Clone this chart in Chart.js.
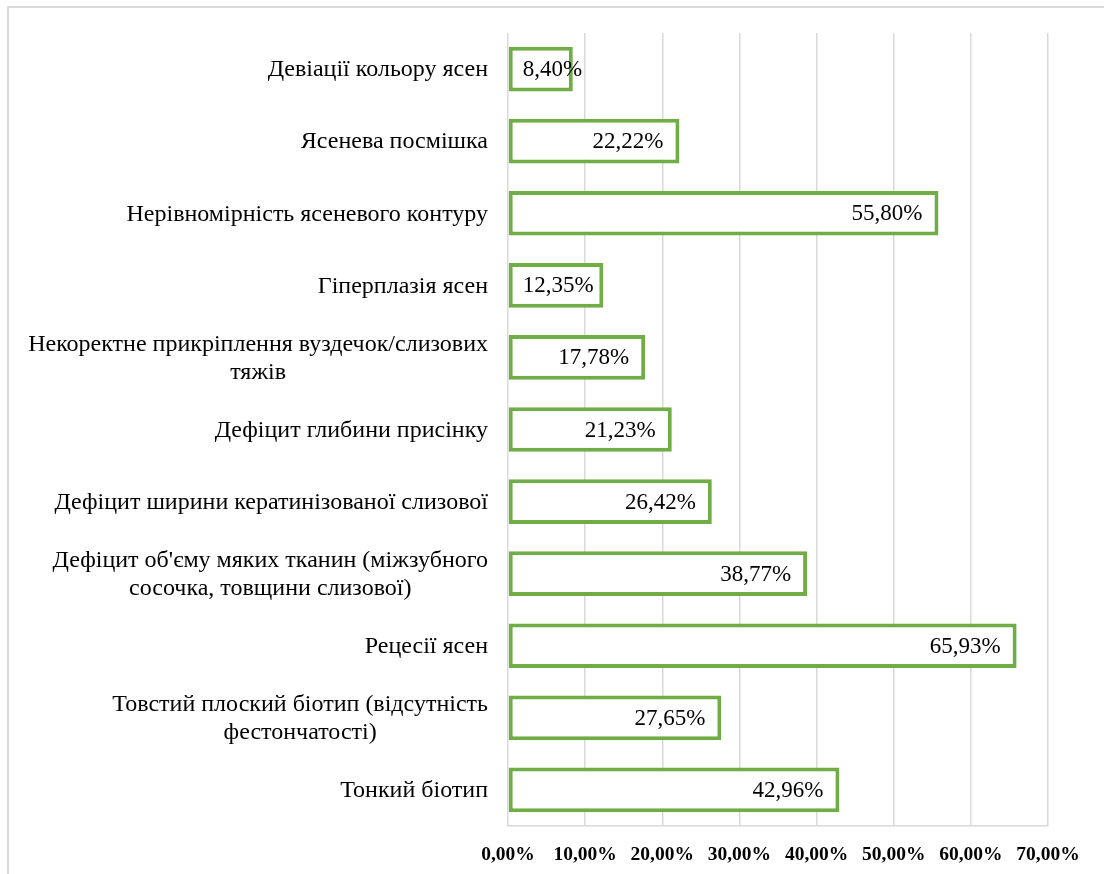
<!DOCTYPE html>
<html>
<head>
<meta charset="utf-8">
<script src="https://cdn.jsdelivr.net/npm/chart.js@4"></script>
<style>
  body { margin: 0; background: #fff; }
  #frame { position: absolute; left: 7px; top: 6px; width: 1200px; height: 1000px; border: 2px solid #d9d9d9; }
  #wrap { position: absolute; left: 0; top: 0; width: 1104px; height: 874px; }
</style>
</head>
<body>
<div id="frame"></div>
<div id="wrap"><canvas id="myChart" width="1104" height="874"></canvas></div>
<script>
// categories top to bottom, multi-line ones as arrays
const categories = [
    'Девіації кольору ясен',
    'Ясенева посмішка',
    'Нерівномірність ясеневого контуру',
    'Гіперплазія ясен',
    ['Некоректне прикріплення вуздечок/слизових', 'тяжів'],
    'Дефіцит глибини присінку',
    'Дефіцит ширини кератинізованої слизової',
    ["Дефіцит об'єму мяких тканин (міжзубного", 'сосочка, товщини слизової)'],
    'Рецесії ясен',
    ['Товстий плоский біотип (відсутність', 'фестончатості)'],
    'Тонкий біотип'
];
const values = [8.40, 22.22, 55.80, 12.35, 17.78, 21.23, 26.42, 38.77, 65.93, 27.65, 42.96];
const xTicks = [0, 10, 20, 30, 40, 50, 60, 70];

const pct = v => v.toFixed(2).replace('.', ',') + '%';
const serif = '"Liberation Serif", "Times New Roman", serif';

// y labels: block right aligned, lines centred inside the block (like Excel)
const yLabels = {
    id: 'yLabels',
    afterDraw(chart) {
        const ctx = chart.ctx;
        const sc = chart.scales.y;
        const right = chart.chartArea.left - 20;
        const lh = 28;
        ctx.save();
        ctx.font = '24px ' + serif;
        ctx.fillStyle = '#000';
        ctx.textAlign = 'center';
        ctx.textBaseline = 'middle';
        categories.forEach((c, i) => {
            const lines = Array.isArray(c) ? c : [c];
            const w = Math.max(...lines.map(l => ctx.measureText(l).width));
            const cy = sc.getPixelForTick(i);
            lines.forEach((l, j) => {
                ctx.fillText(l, right - w / 2, cy + 1 + (j - (lines.length - 1) / 2) * lh);
            });
        });
        ctx.restore();
    }
};

// value labels at the inside end of each bar
const barLabels = {
    id: 'barLabels',
    afterDatasetsDraw(chart) {
        const ctx = chart.ctx;
        const meta = chart.getDatasetMeta(0);
        ctx.save();
        ctx.font = '23px ' + serif;
        ctx.fillStyle = '#000';
        ctx.textAlign = 'left';
        ctx.textBaseline = 'middle';
        meta.data.forEach((bar, i) => {
            const t = pct(values[i]);
            const w = ctx.measureText(t).width;
            const x = Math.max(bar.x - 16 - w, bar.base + 14);
            ctx.fillText(t, x, bar.y + 1);
        });
        ctx.restore();
    }
};

function chartIt() {
    const ctx = document.getElementById('myChart').getContext('2d');
    const chart = new Chart(ctx, {
        type: 'bar',
        data: {
            labels: categories,
            datasets: [{
                data: values,
                backgroundColor: '#ffffff',
                borderColor: '#70ad47',
                borderWidth: 4,
                borderSkipped: false,
                barPercentage: 0.62,
                categoryPercentage: 1
            }]
        },
        options: {
            indexAxis: 'y',
            responsive: false,
            animation: false,
            layout: { padding: { top: 33, right: 56, left: 0, bottom: 0 } },
            plugins: {
                legend: { display: false },
                tooltip: { enabled: false }
            },
            scales: {
                x: {
                    min: 0,
                    max: 70,
                    afterBuildTicks: sc => { sc.ticks = xTicks.map(v => ({ value: v })); },
                    afterFit: sc => { sc.height = 48; },
                    grid: { color: '#d9d9d9', lineWidth: 1.5, drawTicks: false },
                    border: { display: true, color: '#d9d9d9', width: 1.5 },
                    ticks: {
                        padding: 17,
                        color: '#000',
                        font: { family: serif, size: 19.5, weight: 'bold' },
                        maxRotation: 0,
                        autoSkip: false,
                        callback: v => pct(v)
                    }
                },
                y: {
                    afterFit: sc => { sc.width = 508; },
                    grid: { display: false },
                    border: { display: false },
                    ticks: { display: false }
                }
            }
        },
        plugins: [yLabels, barLabels]
    });
}
chartIt();
</script>
</body>
</html>
